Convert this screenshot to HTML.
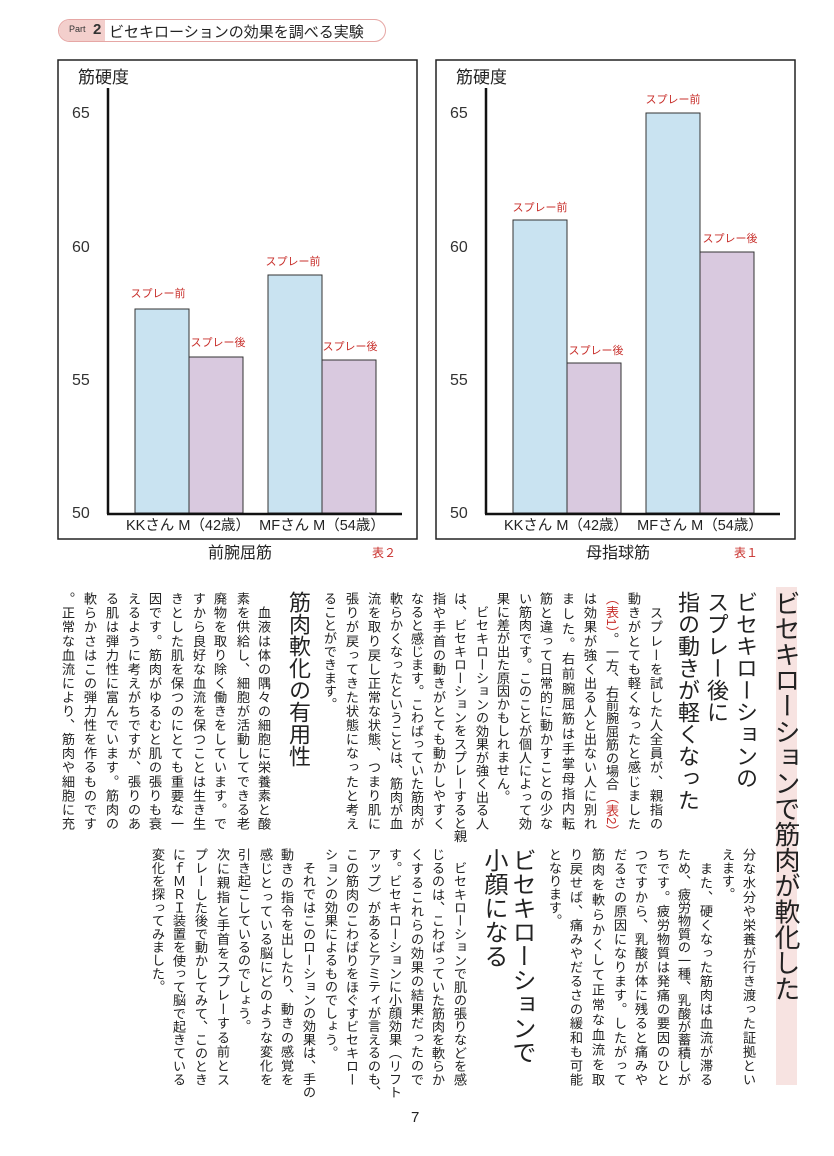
<!DOCTYPE html>
<html><head><meta charset="utf-8">
<style>
body{margin:0;background:#fff;}
#p{position:relative;width:834px;height:1156px;overflow:hidden;font-family:"Liberation Sans","Noto Sans CJK JP",sans-serif;color:#222;}
.c{position:absolute;writing-mode:vertical-rl;font-size:13.2px;line-height:16px;width:16px;height:238px;white-space:nowrap;}
.j{text-align:justify;text-align-last:justify;}
.h{position:absolute;writing-mode:vertical-rl;font-size:22px;line-height:26px;width:26px;white-space:nowrap;color:#222;}
.r{color:#c8302c;}
</style></head><body><div id="p">

<div style="position:absolute;left:58px;top:19px;width:326px;height:21px;border:1.5px solid #e6a7a5;border-radius:12px;overflow:hidden;">
<div style="position:absolute;left:0;top:0;width:46px;height:21px;background:#f3cfcc;"></div>
<div style="position:absolute;left:10px;top:4px;font-size:9px;color:#333;">Part</div>
<div style="position:absolute;left:34px;top:1px;font-size:15px;font-weight:bold;color:#333;">2</div>
<div style="position:absolute;left:50px;top:1px;font-size:15px;color:#222;">ビセキローションの効果を調べる実験</div>
</div>

<svg width="834" height="580" style="position:absolute;left:0;top:0" font-family="Liberation Sans, Noto Sans CJK JP, sans-serif">
<g fill="none" stroke="#222" stroke-width="1.5">
<rect x="58" y="60" width="359" height="479"/>
<rect x="436" y="60" width="359" height="479"/>
</g>
<g fill="#c9e3f1" stroke="#333" stroke-width="1">
<rect x="135" y="309" width="54" height="204"/>
<rect x="268" y="275" width="54" height="238"/>
<rect x="513" y="220" width="54" height="293"/>
<rect x="646" y="113" width="54" height="400"/>
</g>
<g fill="#d9c9df" stroke="#333" stroke-width="1">
<rect x="189" y="357" width="54" height="156"/>
<rect x="322" y="360" width="54" height="153"/>
<rect x="567" y="363" width="54" height="150"/>
<rect x="700" y="252" width="54" height="261"/>
</g>
<g stroke="#111" stroke-width="2.5">
<line x1="108" y1="88" x2="108" y2="514"/><line x1="107" y1="514" x2="402" y2="514"/>
<line x1="486" y1="88" x2="486" y2="514"/><line x1="485" y1="514" x2="780" y2="514"/>
</g>
<g font-size="17" fill="#222">
<text x="78" y="83">筋硬度</text><text x="456" y="83">筋硬度</text>
</g>
<g font-size="16" fill="#333">
<text x="72" y="118">65</text><text x="72" y="252">60</text><text x="72" y="385">55</text><text x="72" y="518">50</text>
<text x="450" y="118">65</text><text x="450" y="252">60</text><text x="450" y="385">55</text><text x="450" y="518">50</text>
</g>
<g font-size="14.5" fill="#222" text-anchor="middle">
<text x="188" y="530">KKさん M（42歳）</text><text x="322" y="530">MFさん M（54歳）</text>
<text x="566" y="530">KKさん M（42歳）</text><text x="700" y="530">MFさん M（54歳）</text>
</g>
<g font-size="16" fill="#222" text-anchor="middle">
<text x="240" y="558">前腕屈筋</text><text x="618" y="558">母指球筋</text>
</g>
<g font-size="12" fill="#c8302c">
<text x="372" y="557">表２</text><text x="734" y="557">表１</text>
</g>
<g font-size="11" fill="#c8302c" text-anchor="middle">
<text x="158" y="297">スプレー前</text><text x="218" y="346">スプレー後</text>
<text x="293" y="265">スプレー前</text><text x="350" y="350">スプレー後</text>
<text x="540" y="211">スプレー前</text><text x="596" y="354">スプレー後</text>
<text x="673" y="103">スプレー前</text><text x="730" y="242">スプレー後</text>
</g>
</svg>

<div style="position:absolute;left:776px;top:587px;width:21px;height:498px;background:#f7e3e1;"></div>
<div style="position:absolute;left:770px;top:590px;writing-mode:vertical-rl;font-size:26px;line-height:32px;width:32px;white-space:nowrap;color:#222;letter-spacing:-0.3px;">ビセキローションで筋肉が軟化した</div>

<div class="h" style="left:732px;top:591px;">ビセキローションの</div>
<div class="h" style="left:703px;top:591px;">スプレー後に</div>
<div class="h" style="left:674px;top:591px;">指の動きが軽くなった</div>
<div class="h" style="left:285px;top:591px;">筋肉軟化の有用性</div>

<div class="c j" style="left:647px;top:592px;">　スプレーを試した人全員が、親指の</div>
<div class="c j" style="left:625px;top:592px;">動きがとても軽くなったと感じました</div>
<div class="c j" style="left:603px;top:592px;"><span class="r">（表1）</span>。一方、右前腕屈筋の場合<span class="r">（表2）</span></div>
<div class="c j" style="left:581px;top:592px;">は効果が強く出る人と出ない人に別れ</div>
<div class="c j" style="left:559px;top:592px;">ました。右前腕屈筋は手掌母指内転</div>
<div class="c j" style="left:537px;top:592px;">筋と違って日常的に動かすことの少な</div>
<div class="c j" style="left:516px;top:592px;">い筋肉です。このことが個人によって効</div>
<div class="c" style="left:494px;top:592px;">果に差が出た原因かもしれません。</div>
<div class="c j" style="left:473px;top:592px;">　ビセキローションの効果が強く出る人</div>
<div class="c j" style="left:451px;top:592px;">は、ビセキローションをスプレーすると親</div>
<div class="c j" style="left:430px;top:592px;">指や手首の動きがとても動かしやすく</div>
<div class="c j" style="left:408px;top:592px;">なると感じます。こわばっていた筋肉が</div>
<div class="c j" style="left:387px;top:592px;">軟らかくなったということは、筋肉が血</div>
<div class="c j" style="left:365px;top:592px;">流を取り戻し正常な状態、つまり肌に</div>
<div class="c j" style="left:343px;top:592px;">張りが戻ってきた状態になったと考え</div>
<div class="c" style="left:321px;top:592px;">ることができます。</div>
<div class="c j" style="left:255px;top:592px;">　血液は体の隅々の細胞に栄養素と酸</div>
<div class="c j" style="left:234px;top:592px;">素を供給し、細胞が活動してできる老</div>
<div class="c j" style="left:211px;top:592px;">廃物を取り除く働きをしています。で</div>
<div class="c j" style="left:190px;top:592px;">すから良好な血流を保つことは生き生</div>
<div class="c j" style="left:168px;top:592px;">きとした肌を保つのにとても重要な一</div>
<div class="c j" style="left:146px;top:592px;">因です。筋肉がゆるむと肌の張りも衰</div>
<div class="c j" style="left:125px;top:592px;">えるように考えがちですが、張りのあ</div>
<div class="c j" style="left:103px;top:592px;">る肌は弾力性に富んでいます。筋肉の</div>
<div class="c j" style="left:81px;top:592px;">軟らかさはこの弾力性を作るものです</div>
<div class="c j" style="left:59px;top:592px;">。正常な血流により、筋肉や細胞に充</div>

<div class="c j" style="left:740px;top:848px;">分な水分や栄養が行き渡った証拠とい</div>
<div class="c" style="left:719px;top:848px;">えます。</div>
<div class="c j" style="left:697px;top:848px;">　また、硬くなった筋肉は血流が滞る</div>
<div class="c j" style="left:675px;top:848px;">ため、疲労物質の一種、乳酸が蓄積しが</div>
<div class="c j" style="left:654px;top:848px;">ちです。疲労物質は発痛の要因のひと</div>
<div class="c j" style="left:632px;top:848px;">つですから、乳酸が体に残ると痛みや</div>
<div class="c j" style="left:611px;top:848px;">だるさの原因になります。したがって</div>
<div class="c j" style="left:589px;top:848px;">筋肉を軟らかくして正常な血流を取</div>
<div class="c j" style="left:567px;top:848px;">り戻せば、痛みやだるさの緩和も可能</div>
<div class="c" style="left:546px;top:848px;">となります。</div>
<div class="h" style="left:508px;top:848px;font-size:24px;">ビセキローションで</div>
<div class="h" style="left:480px;top:848px;font-size:24px;">小顔になる</div>
<div class="c j" style="left:451px;top:848px;">　ビセキローションで肌の張りなどを感</div>
<div class="c j" style="left:429px;top:848px;">じるのは、こわばっていた筋肉を軟らか</div>
<div class="c j" style="left:408px;top:848px;">くするこれらの効果の結果だったので</div>
<div class="c j" style="left:386px;top:848px;">す。ビセキローションに小顔効果（リフト</div>
<div class="c j" style="left:365px;top:848px;">アップ）があるとアミティが言えるのも、</div>
<div class="c j" style="left:343px;top:848px;">この筋肉のこわばりをほぐすビセキロー</div>
<div class="c" style="left:322px;top:848px;">ションの効果によるものでしょう。</div>
<div class="c j" style="left:300px;top:848px;">　それではこのローションの効果は、手の</div>
<div class="c j" style="left:278px;top:848px;">動きの指令を出したり、動きの感覚を</div>
<div class="c j" style="left:257px;top:848px;">感じとっている脳にどのような変化を</div>
<div class="c" style="left:235px;top:848px;">引き起こしているのでしょう。</div>
<div class="c j" style="left:214px;top:848px;">次に親指と手首をスプレーする前とス</div>
<div class="c j" style="left:192px;top:848px;">プレーした後で動かしてみて、このとき</div>
<div class="c j" style="left:170px;top:848px;">にｆＭＲＩ装置を使って脳で起きている</div>
<div class="c" style="left:149px;top:848px;">変化を探ってみました。</div>

<div style="position:absolute;left:411px;top:1109px;font-size:15px;color:#222;">7</div>
</div></body></html>
